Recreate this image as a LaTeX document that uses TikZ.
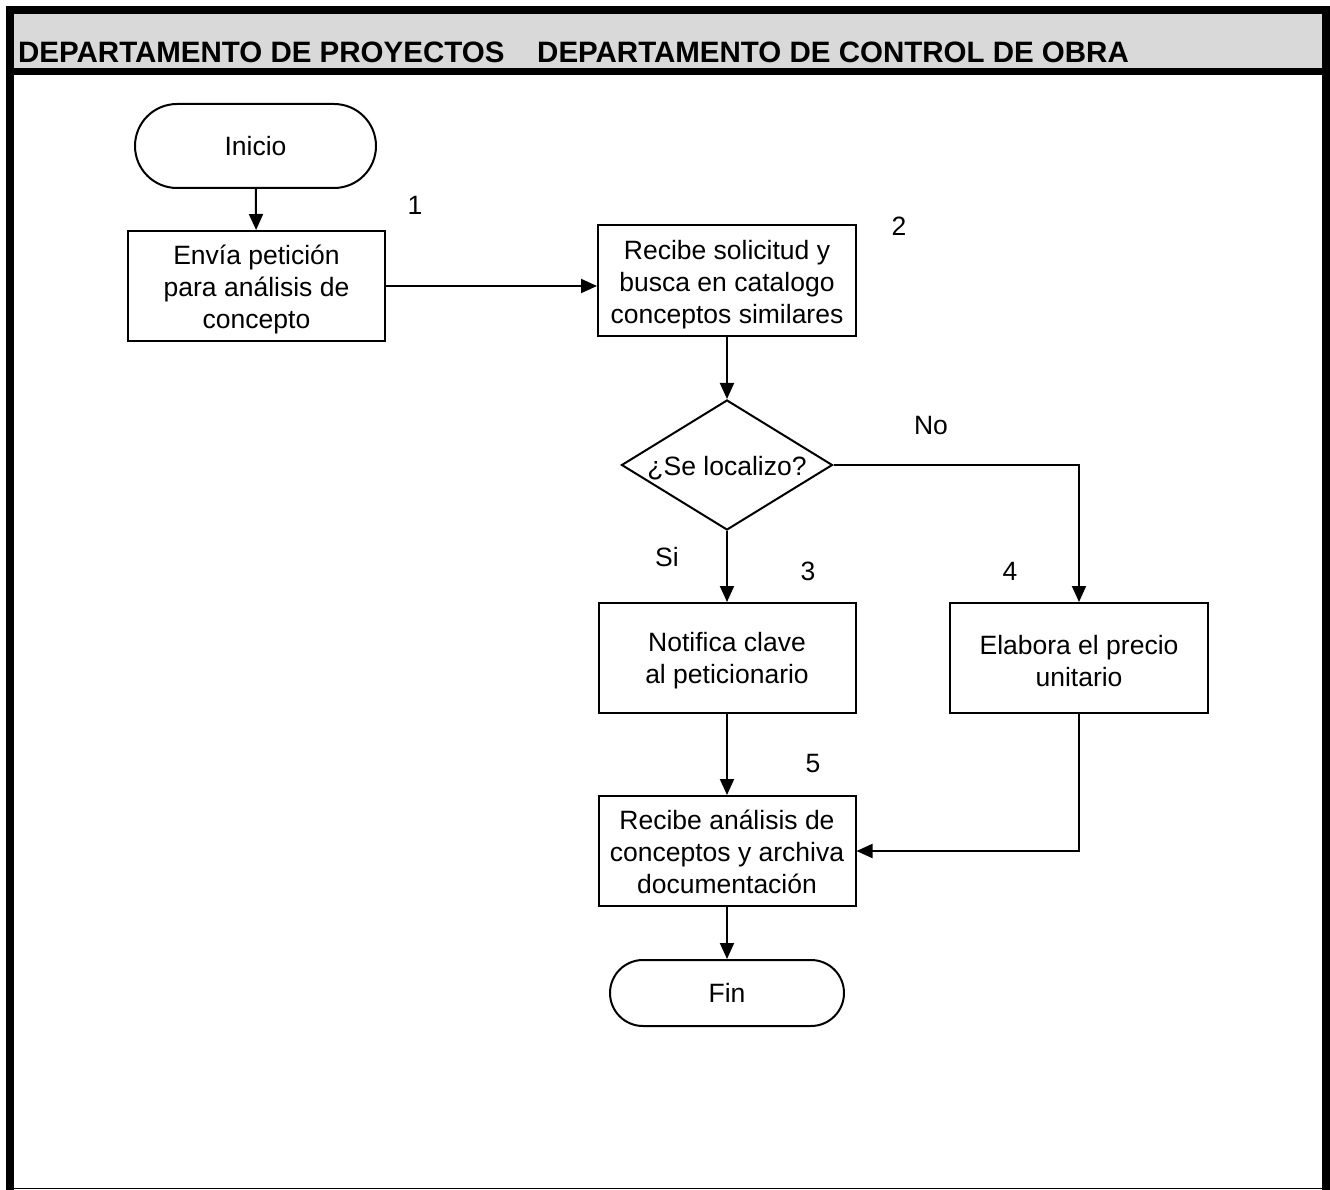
\documentclass[tikz,border=0pt]{standalone}
\usepackage{fontspec}
\setmainfont{Liberation Sans}
\usetikzlibrary{shapes.geometric,arrows.meta}
\begin{document}
\begin{tikzpicture}[x=1pt,y=-1pt,
  txt/.style={font=\fontsize{26.5}{32}\selectfont},
  box/.style={draw, line width=2pt, minimum width=257pt, minimum height=110pt, inner sep=0pt},
  btxt/.style={txt, align=center, inner sep=0pt},
  term/.style={draw, line width=2pt, align=center, inner sep=0pt, txt},
  dec/.style={draw, line width=2pt, diamond, aspect=1.62, minimum width=211pt, minimum height=130pt, inner sep=0pt, txt},
  arr/.style={line width=2pt, -{Triangle[length=16pt,width=14pt]}},
  lbl/.style={txt, inner sep=0pt},
  head/.style={font=\fontsize{29.5}{32}\selectfont\bfseries, inner sep=0pt, anchor=base west}]
\useasboundingbox (0,0) rectangle (1330,1190);
% frame
\fill[gray!30] (14,14) rectangle (1322,68);
\fill[black] (6,6) rectangle (1330,14);
\fill[black] (6,6) rectangle (14,1190);
\fill[black] (1322,6) rectangle (1330,1190);
\fill[black] (6,68) rectangle (1330,75);
\draw[line width=1.5pt] (14,1188.5) -- (1322,1188.5);
\node[head] (h1) at (18,62.5) {DEPARTAMENTO DE PROYECTOS};
\node[head] (h2) at (537,62.5) {DEPARTAMENTO DE CONTROL DE OBRA};
% nodes
\node[term, minimum width=241pt, minimum height=84pt, rounded corners=42pt] (ini) at (255.5,146) {Inicio};
\node[box] (b1) at (256.5,286) {};
\node[btxt] (b1t) at ([yshift=-3pt]b1.center) {Envía petición\\para análisis de\\concepto};
\node[box, minimum width=258pt, minimum height=111pt] (b2) at (727,280.5) {};
\node[btxt] (b2t) at ([yshift=-4pt]b2.center) {Recibe solicitud y\\busca en catalogo\\conceptos similares};
\node[dec] (d) at (727,465) {\raisebox{-3.5pt}[\height][\depth]{¿Se localizo?}};
\node[box] (b3) at (727,658) {};
\node[btxt] (b3t) at ([yshift=-3pt]b3.center) {Notifica clave\\al peticionario};
\node[box, minimum width=258pt] (b4) at (1079,658) {};
\node[btxt] (b4t) at ([yshift=-3pt]b4.center) {Elabora el precio\\unitario};
\node[box] (b5) at (727,851) {};
\node[btxt] (b5t) at ([yshift=-0.5pt]b5.center) {Recibe análisis de\\conceptos y archiva\\documentación};
\node[term, minimum width=234pt, minimum height=66pt, rounded corners=33pt] (fin) at (727,993) {Fin};
% labels
\node[lbl] (l1) at (415,205) {1};
\node[lbl] (l2) at (899,226) {2};
\node[lbl] (lno) at (931,426) {No};
\node[lbl] (lsi) at (667,557) {Si};
\node[lbl] (l3) at (808,571) {3};
\node[lbl] (l4) at (1010,571) {4};
\node[lbl] (l5) at (813,764) {5};
% connectors
\draw[arr] (ini) -- (b1);
\draw[arr] (b1.east) -- (b1.east -| b2.west);
\draw[arr] (b2) -- (d);
\draw[arr] (d.east) -| (b4);
\draw[arr] (d) -- (b3);
\draw[arr] (b3) -- (b5);
\draw[arr] (b4) |- (b5);
\draw[arr] (b5) -- (fin);
\end{tikzpicture}
\end{document}
